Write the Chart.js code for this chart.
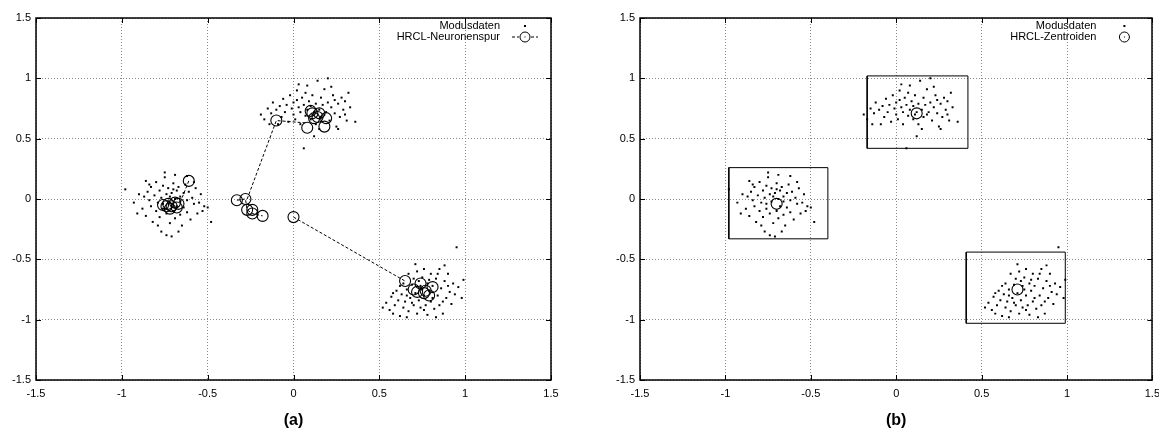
<!DOCTYPE html>
<html>
<head>
<meta charset="utf-8">
<script src="https://cdn.jsdelivr.net/npm/chart.js@4.4.0/dist/chart.umd.min.js"></script>
<style>
  html, body { margin: 0; padding: 0; background: #fff; overflow: hidden; }
  #wrap { position: relative; width: 1159px; height: 430px; }
  canvas { position: absolute; top: 0; }
  #chart-a { left: 0; }
  #chart-b { left: 580px; }
</style>
</head>
<body>
<div id="wrap">
  <canvas id="chart-a" width="580" height="430"></canvas>
  <canvas id="chart-b" width="579" height="430"></canvas>
</div>
<script>
// ---- Daten ----
const axisMin = -1.5;
const axisMax = 1.5;
const axisStep = 0.5;

// Modusdaten: drei Cluster
const cluster1 = [
  [-0.98,0.08],[-0.93,-0.03],[-0.90,0.04],[-0.88,-0.08],[-0.87,0.02],[-0.86,-0.14],[-0.85,0.06],[-0.84,-0.01],
  [-0.83,0.10],[-0.83,-0.06],[-0.82,-0.19],[-0.81,0.03],[-0.80,-0.10],[-0.80,0.14],[-0.79,-0.03],[-0.78,0.07],
  [-0.78,-0.15],[-0.77,0.01],[-0.77,-0.27],[-0.76,0.11],[-0.76,-0.08],[-0.75,0.22],[-0.75,0.18],[-0.74,0.04],
  [-0.74,-0.12],[-0.73,-0.02],[-0.73,0.09],[-0.72,-0.20],[-0.71,0.05],[-0.71,-0.31],[-0.70,0.13],[-0.70,-0.10],
  [-0.69,0.00],[-0.69,-0.16],[-0.68,0.07],[-0.68,-0.06],[-0.67,0.10],[-0.66,-0.13],[-0.66,0.02],[-0.65,-0.22],
  [-0.64,0.05],[-0.64,-0.07],[-0.63,0.12],[-0.62,-0.01],[-0.62,-0.11],[-0.61,0.06],[-0.60,-0.17],[-0.59,0.01],
  [-0.58,-0.04],[-0.57,0.09],[-0.56,-0.12],[-0.55,-0.03],[-0.54,0.04],[-0.53,-0.10],[-0.52,-0.06],[-0.50,-0.07],
  [-0.48,-0.19],[-0.86,0.15],[-0.91,-0.12],[-0.79,-0.22],[-0.67,-0.27],[-0.74,-0.30],[-0.62,0.19],[-0.58,0.14],
  [-0.69,0.20],[-0.84,0.12],[-0.76,-0.04],[-0.72,0.02],[-0.66,-0.02],[-0.70,0.08]
];
const cluster2 = [
  [-0.19,0.70],[-0.17,0.66],[-0.15,0.75],[-0.13,0.71],[-0.12,0.80],[-0.10,0.74],[-0.08,0.77],[-0.07,0.68],
  [-0.06,0.83],[-0.05,0.72],[-0.04,0.78],[-0.03,0.64],[-0.02,0.86],[-0.01,0.75],[0.00,0.70],[0.00,0.80],
  [0.01,0.66],[0.02,0.90],[0.03,0.76],[0.04,0.72],[0.04,0.62],[0.05,0.84],[0.06,0.42],[0.06,0.78],
  [0.07,0.69],[0.08,0.94],[0.08,0.74],[0.09,0.81],[0.10,0.66],[0.10,0.77],[0.11,0.86],[0.12,0.72],
  [0.13,0.62],[0.13,0.79],[0.14,0.98],[0.15,0.74],[0.16,0.84],[0.16,0.68],[0.17,0.78],[0.18,0.91],
  [0.19,0.72],[0.20,0.80],[0.21,0.65],[0.22,0.76],[0.23,0.86],[0.24,0.71],[0.25,0.60],[0.26,0.79],
  [0.27,0.68],[0.28,0.84],[0.29,0.74],[0.30,0.81],[0.31,0.65],[0.32,0.88],[0.33,0.76],[0.36,0.64],
  [0.26,0.58],[0.20,1.00],[0.12,0.52],[-0.09,0.62],[0.03,0.95],[0.22,0.93],[0.15,0.58],[0.07,0.88],
  [-0.14,0.62],[0.18,0.70],[0.11,0.70],[0.24,0.82],[0.02,0.82],[0.30,0.70]
];
const cluster3 = [
  [0.52,-0.90],[0.54,-0.86],[0.56,-0.92],[0.57,-0.81],[0.58,-0.95],[0.59,-0.88],[0.60,-0.76],[0.61,-0.84],
  [0.62,-0.97],[0.63,-0.79],[0.64,-0.90],[0.64,-0.70],[0.65,-0.85],[0.66,-0.75],[0.67,-0.93],[0.67,-0.62],
  [0.68,-0.82],[0.69,-0.71],[0.70,-0.88],[0.70,-0.66],[0.71,-0.78],[0.72,-0.95],[0.72,-0.60],[0.73,-0.84],
  [0.74,-0.72],[0.74,-0.90],[0.75,-0.65],[0.76,-0.80],[0.76,-0.58],[0.77,-0.88],[0.78,-0.70],[0.78,-0.96],
  [0.79,-0.76],[0.80,-0.62],[0.80,-0.85],[0.81,-0.72],[0.82,-0.91],[0.83,-0.66],[0.84,-0.80],[0.85,-0.58],
  [0.85,-0.88],[0.86,-0.74],[0.87,-0.95],[0.88,-0.68],[0.89,-0.82],[0.90,-0.62],[0.91,-0.77],[0.92,-0.87],
  [0.93,-0.70],[0.94,-0.79],[0.95,-0.40],[0.96,-0.73],[0.98,-0.82],[0.99,-0.67],[0.66,-0.98],[0.62,-0.72],
  [0.71,-0.54],[0.83,-0.98],[0.88,-0.55],[0.58,-0.78],[0.75,-0.75],[0.79,-0.67],[0.69,-0.86],[0.84,-0.62],
  [0.73,-0.68],[0.81,-0.82],[0.90,-0.72],[0.66,-0.80],[0.76,-0.92],[0.87,-0.85]
];

// (a) HRCL-Neuronenspur: Neuronenpositionen und gestrichelte Pfade
const neuronCircles = [
  [-0.10,0.65],[-0.33,-0.01],[-0.28,0.00],[-0.27,-0.09],[-0.24,-0.09],[-0.24,-0.12],[-0.18,-0.14],[0.00,-0.15],
  [-0.61,0.15],
  [-0.76,-0.05],[-0.73,-0.04],[-0.71,-0.06],[-0.69,-0.03],[-0.67,-0.04],[-0.72,-0.08],[-0.68,-0.07],[-0.74,-0.06],
  [0.08,0.59],[0.18,0.60],[0.11,0.71],[0.15,0.71],[0.12,0.67],[0.19,0.67],[0.10,0.73],[0.14,0.68],
  [0.65,-0.68],[0.70,-0.75],[0.74,-0.70],[0.76,-0.78],[0.79,-0.80],[0.81,-0.73],[0.72,-0.77],[0.77,-0.76]
];
const neuronTracks = [
  [[-0.27,0.00],[-0.10,0.65],[0.08,0.63]],
  [[0.00,-0.15],[0.65,-0.68]],
  [[-0.33,-0.01],[-0.28,0.00],[-0.27,-0.09],[-0.24,-0.12],[-0.18,-0.14]],
  [[-0.61,0.15],[-0.66,-0.03]]
];

// (b) HRCL-Zentroiden und Clustergrenzen [xmin, xmax, ymin, ymax]
const centroids = [[-0.70,-0.04],[0.12,0.71],[0.71,-0.75]];
const clusterBoxes = [
  [-0.98, -0.40, -0.33, 0.26],
  [-0.17, 0.42, 0.42, 1.02],
  [0.41, 0.99, -1.03, -0.44]
];

// ---- Hilfsfunktionen ----
const FONT = '"Liberation Sans", Arial, Helvetica, sans-serif';
const toPoints = arr => arr.map(([x, y]) => ({ x, y }));
const modusPoints = toPoints([...cluster1, ...cluster2, ...cluster3]);

// gnuplot-artiger Rahmen, Innenticks und Legende oben rechts
const gnuplotFrame = {
  id: 'gnuplotFrame',
  beforeDatasetsDraw(chart) {
    const { ctx, chartArea: a, scales } = chart;
    ctx.save();
    ctx.strokeStyle = '#000';
    ctx.lineWidth = 1;
    ctx.beginPath();
    scales.x.ticks.forEach(t => {
      const px = Math.round(scales.x.getPixelForValue(t.value)) + 0.5;
      ctx.moveTo(px, a.bottom); ctx.lineTo(px, a.bottom - 5);
      ctx.moveTo(px, a.top); ctx.lineTo(px, a.top + 5);
    });
    scales.y.ticks.forEach(t => {
      const py = Math.round(scales.y.getPixelForValue(t.value)) + 0.5;
      ctx.moveTo(a.left, py); ctx.lineTo(a.left + 5, py);
      ctx.moveTo(a.right, py); ctx.lineTo(a.right - 5, py);
    });
    ctx.stroke();
    ctx.lineWidth = 1.5;
    ctx.strokeRect(Math.round(a.left), Math.round(a.top), Math.round(a.right - a.left), Math.round(a.bottom - a.top));
    ctx.restore();
  },
  afterDraw(chart, args, opts) {
    const { ctx, chartArea: a } = chart;
    const entries = opts.entries || [];
    ctx.save();
    ctx.font = '11px ' + FONT;
    ctx.fillStyle = '#000';
    ctx.strokeStyle = '#000';
    ctx.textAlign = 'right';
    ctx.textBaseline = 'middle';
    entries.forEach((e, i) => {
      const y = a.top + 8 + i * 11;
      const tx = a.right - opts.textOffset;
      const sx = a.right - opts.sampleOffset;
      ctx.fillText(e.text, tx, y);
      if (e.kind === 'dot') {
        ctx.fillRect(sx - 1, y - 1, 2, 2);
      } else {
        if (e.kind === 'track') {
          ctx.save();
          ctx.lineWidth = 1;
          ctx.setLineDash([3, 2]);
          ctx.beginPath();
          ctx.moveTo(sx - 13, y); ctx.lineTo(sx - 6, y);
          ctx.moveTo(sx + 6, y); ctx.lineTo(sx + 13, y);
          ctx.stroke();
          ctx.restore();
        }
        ctx.lineWidth = 1;
        ctx.beginPath();
        ctx.arc(sx, y, 5, 0, Math.PI * 2);
        ctx.stroke();
        ctx.fillRect(sx - 0.5, y - 0.5, 1, 1);
      }
    });
    ctx.restore();
  }
};

function makeOptions(label, padLeft, padRight, legend) {
  const tickFont = { family: FONT, size: 11 };
  return {
    responsive: false,
    animation: false,
    layout: { padding: { left: padLeft, right: padRight, top: 18, bottom: 0 } },
    plugins: {
      legend: { display: false },
      tooltip: { enabled: false },
      gnuplotFrame: legend
    },
    scales: {
      x: {
        type: 'linear',
        min: axisMin, max: axisMax,
        ticks: {
          stepSize: axisStep, autoSkip: false, maxRotation: 0, padding: 7,
          color: '#000', font: tickFont,
          callback: v => String(v)
        },
        grid: { color: '#8a8a8a', lineWidth: 1, drawTicks: false },
        border: { display: false, dash: [1, 2] },
        title: {
          display: true, text: label, color: '#000',
          font: { family: FONT, size: 16, weight: 'bold' },
          padding: { top: 0, bottom: 0 }
        },
        afterFit: s => { s.height = 50; s.paddingLeft = 0; s.paddingRight = 0; }
      },
      y: {
        type: 'linear',
        min: axisMin, max: axisMax,
        ticks: {
          stepSize: axisStep, autoSkip: false, padding: 5,
          color: '#000', font: tickFont,
          callback: v => String(v)
        },
        grid: { color: '#8a8a8a', lineWidth: 1, drawTicks: false },
        border: { display: false, dash: [1, 2] },
        afterFit: s => { s.width = 36; s.paddingTop = 0; s.paddingBottom = 0; }
      }
    }
  };
}

const dotStyle = {
  pointStyle: 'rect', pointRadius: 1.4, pointHoverRadius: 1.4,
  pointBackgroundColor: '#000', pointBorderWidth: 0, showLine: false
};
const circleStyle = {
  pointStyle: 'circle', pointRadius: 5.5, pointHoverRadius: 5.5,
  pointBackgroundColor: 'rgba(0,0,0,0)', pointBorderColor: '#000', pointBorderWidth: 1.1, showLine: false
};

// ---- (a) ----
const datasetsA = [
  { label: 'HRCL-Neuronenspur', data: toPoints(neuronCircles), ...circleStyle },
  ...neuronTracks.map(t => ({
    label: '', data: toPoints(t), showLine: true, pointRadius: 0,
    borderColor: '#000', borderWidth: 1, borderDash: [3, 2], fill: false
  })),
  { label: 'Modusdaten', data: modusPoints, ...dotStyle }
];

new Chart(document.getElementById('chart-a'), {
  type: 'scatter',
  data: { datasets: datasetsA },
  options: makeOptions('(a)', 0, 29, {
    textOffset: 51, sampleOffset: 26,
    entries: [{ text: 'Modusdaten', kind: 'dot' }, { text: 'HRCL-Neuronenspur', kind: 'track' }]
  }),
  plugins: [gnuplotFrame]
});

// ---- (b) ----
const datasetsB = [
  { label: 'HRCL-Zentroiden', data: toPoints(centroids), ...circleStyle },
  ...clusterBoxes.map(([x0, x1, y0, y1]) => ({
    label: '', data: toPoints([[x0, y0], [x1, y0], [x1, y1], [x0, y1], [x0, y0]]),
    showLine: true, pointRadius: 0, borderColor: '#000', borderWidth: 1, fill: false
  })),
  { label: 'Modusdaten', data: modusPoints, ...dotStyle }
];

new Chart(document.getElementById('chart-b'), {
  type: 'scatter',
  data: { datasets: datasetsB },
  options: makeOptions('(b)', 24, 4, {
    textOffset: 56, sampleOffset: 28,
    entries: [{ text: 'Modusdaten', kind: 'dot' }, { text: 'HRCL-Zentroiden', kind: 'circle' }]
  }),
  plugins: [gnuplotFrame]
});
</script>
</body>
</html>
